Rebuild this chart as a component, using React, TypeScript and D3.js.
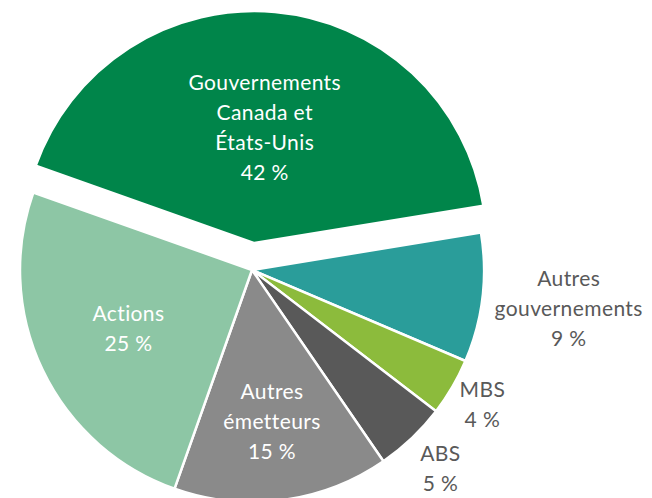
import React, { useEffect, useRef } from "react";
import * as d3 from "d3";

const categories = [
  ["Gouvernements", "Canada et", "États-Unis"],
  ["Autres", "gouvernements"],
  ["MBS"],
  ["ABS"],
  ["Autres", "émetteurs"],
  ["Actions"],
];
const values = [42, 9, 4, 5, 15, 25];
const colors = ["#00854A", "#2A9D9A", "#8CBB3C", "#595959", "#8A8A8A", "#8DC6A5"];
// label radius as share of R, >1 means outside the pie
const labelPos = [0.5, 1.375, 1.15, 1.18, 0.66, 0.59];

const App = () => {
  const ref = useRef<SVGSVGElement>(null);

  useEffect(() => {
    document.body.style.margin = "0";
    drawChart();
  }, []);

  const drawChart = () => {
    const w = 652;
    const h = 498;
    const R = 232;
    const cx = 252;
    const cy = 270;
    const explode = 27;

    const svg = d3.select(ref.current);
    svg.selectAll("*").remove();
    svg.attr("width", w).attr("height", h);

    const start = (-70.5 * Math.PI) / 180;
    const pie = d3
      .pie<number>()
      .sort(null)
      .startAngle(start)
      .endAngle(start + 2 * Math.PI)(values);

    const arc = d3.arc<d3.PieArcDatum<number>>().innerRadius(0).outerRadius(R);

    const g = svg.append("g").attr("transform", `translate(${cx},${cy})`);

    const slices = g
      .selectAll("g.slice")
      .data(pie)
      .enter()
      .append("g")
      .attr("class", "slice")
      .attr("transform", (d, i) => {
        if (i !== 0) return null;
        const a = (d.startAngle + d.endAngle) / 2;
        return `translate(${explode * Math.sin(a)},${-explode * Math.cos(a)})`;
      });

    slices
      .append("path")
      .attr("d", (d) => arc(d))
      .attr("fill", (d, i) => colors[i])
      .attr("stroke", "#fff")
      .attr("stroke-width", 2.5)
      .attr("stroke-linejoin", "round");

    const lineH = 30;
    slices
      .append("text")
      .attr("font-family", "Lato, 'Open Sans', sans-serif")
      .attr("font-size", 21)
      .attr("letter-spacing", 0.4)
      .attr("text-anchor", "middle")
      .attr("fill", (d, i) => (labelPos[i] > 1 ? "#595959" : "#fff"))
      .each(function (d, i) {
        const a = (d.startAngle + d.endAngle) / 2;
        const r = R * labelPos[i];
        const x = r * Math.sin(a);
        const y = -r * Math.cos(a);
        const lines = [...categories[i], d.data + " %"];
        const t = d3.select(this);
        const top = y - ((lines.length - 1) * lineH) / 2;
        lines.forEach((s, k) => {
          t.append("tspan")
            .attr("x", x)
            .attr("y", top + k * lineH)
            .attr("dy", "0.35em")
            .text(s);
        });
      });
  };

  return (
    <div>
      <svg ref={ref}></svg>
    </div>
  );
};

export default App;
